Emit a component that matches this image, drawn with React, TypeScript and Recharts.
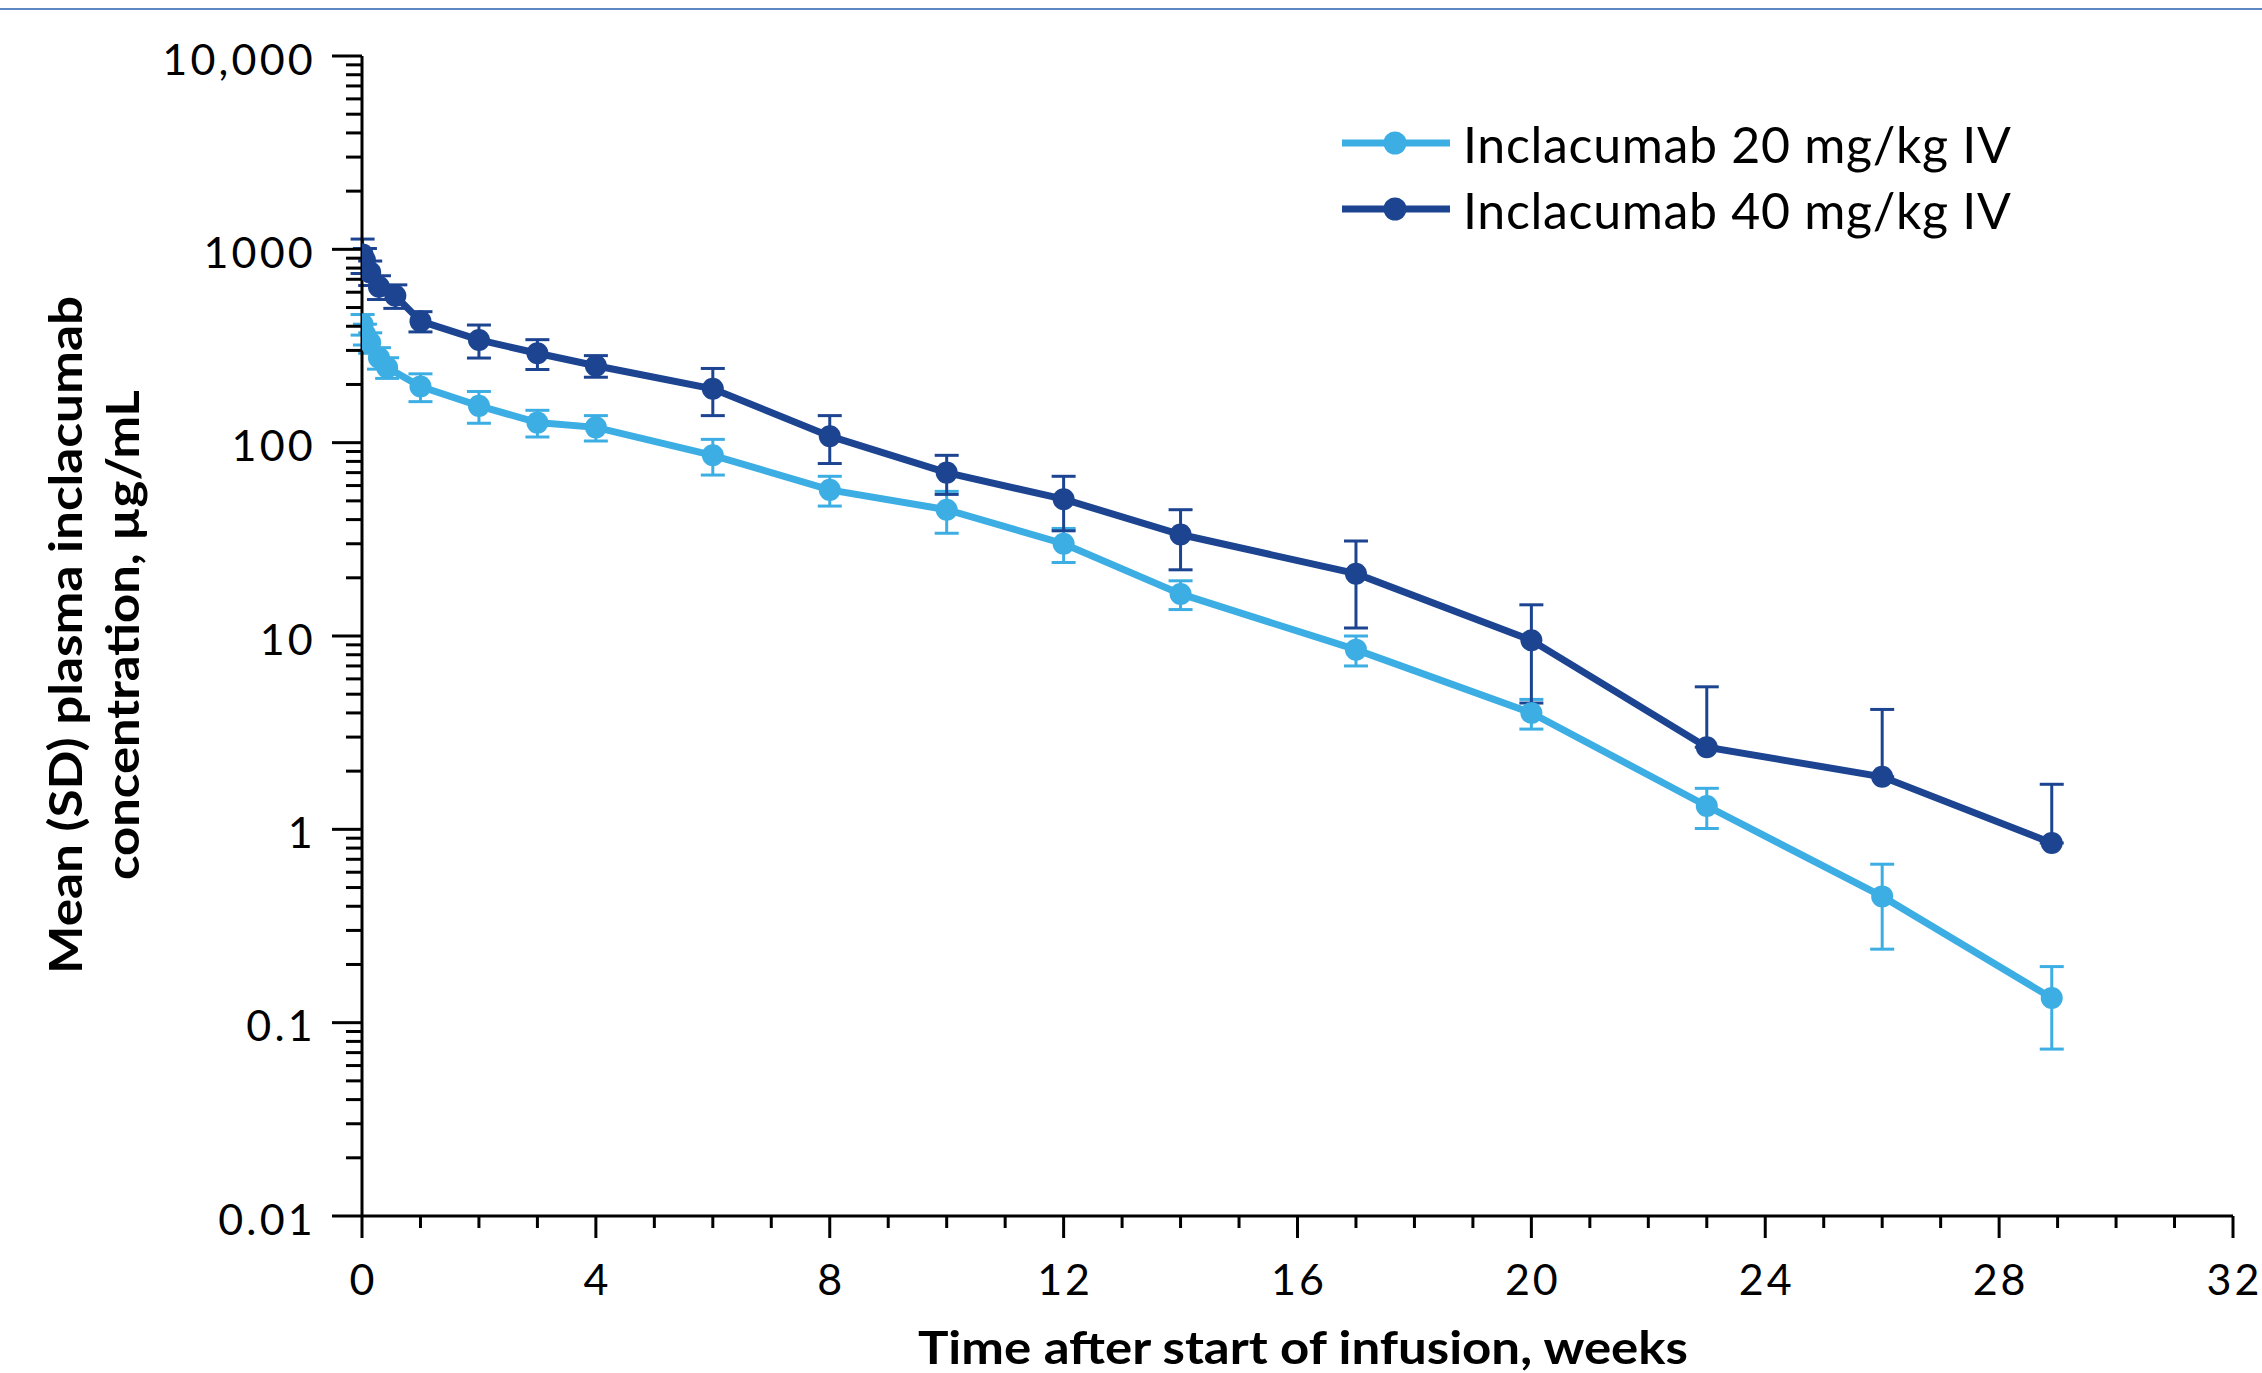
import React from 'react';
import { LineChart, Line, XAxis, YAxis, ErrorBar, Legend } from 'recharts';

// ---- data (weeks after start of infusion, mean and SD in µg/mL) ----
const weeks20 = [0.01, 0.05, 0.14, 0.29, 0.43, 1, 2, 3, 4, 6, 8, 10, 12, 14, 17, 20, 23, 26, 28.9];
const mean20 = [410, 365, 330, 275, 245, 195, 155, 127, 120, 86, 57, 45, 30, 16.5, 8.5, 4.0, 1.32, 0.45, 0.134];
const sd20 = [50, 45, 40, 35, 30, 32, 29, 20, 18, 18, 10, 11, 6, 2.8, 1.5, 0.7, 0.31, 0.21, 0.061];

const weeks40 = [0.01, 0.05, 0.14, 0.29, 0.57, 1, 2, 3, 4, 6, 8, 10, 12, 14, 17, 20, 23, 26, 28.9];
const mean40 = [940, 880, 760, 640, 575, 425, 340, 290, 250, 190, 108, 70, 51, 33.5, 21, 9.5, 2.66, 1.87, 0.85];
const sd40 = [190, 130, 110, 90, 80, 51, 66, 51, 32, 52, 30, 16, 16, 11.5, 10, 5, 2.8, 2.3, 0.86];

const seriesNames = ['Inclacumab 20 mg/kg IV', 'Inclacumab 40 mg/kg IV'];
const seriesColors = ['#3CAEE3', '#1C4491'];

const xMajorTicks = [0, 4, 8, 12, 16, 20, 24, 28, 32];
const xAllTicks = Array.from({ length: 33 }, (_, i) => i);

const yMajorTicks = [0.01, 0.1, 1, 10, 100, 1000, 10000];
const yTickLabels = ['0.01', '0.1', '1', '10', '100', '1000', '10,000'];
const yMinorMultipliers = [2, 3, 4, 5, 6, 7, 8, 9];

const yMinorTicks: number[] = [];
yMajorTicks.slice(0, -1).forEach((d) => {
  yMinorMultipliers.forEach((m) => yMinorTicks.push(+(d * m).toPrecision(6)));
});
const yAllTicks = [...yMajorTicks, ...yMinorTicks].sort((a, b) => a - b);

const build = (w: number[], m: number[], s: number[]) =>
  w.map((week, i) => ({
    week,
    conc: m[i],
    err: [s[i] >= m[i] ? 0 : s[i], s[i]],
  }));

const data20 = build(weeks20, mean20, sd20);
const data40 = build(weeks40, mean40, sd40);

const FONT = 'Lato, "Open Sans", sans-serif';

const XTick = (props: any) => {
  const { x, y, payload } = props;
  const v = payload.value;
  const major = xMajorTicks.includes(v);
  return (
    <g>
      <line x1={x} x2={x} y1={y} y2={y + (major ? 22 : 12)} stroke="#000" strokeWidth={3} />
      {major && (
        <text
          x={x + 1.5}
          y={y + 62}
          textAnchor="middle"
          dominantBaseline="central"
          fontFamily={FONT}
          fontSize={43}
          letterSpacing={3}
          fill="#000"
        >
          {v}
        </text>
      )}
    </g>
  );
};

const YTick = (props: any) => {
  const { x, y, payload } = props;
  const v = payload.value;
  const idx = yMajorTicks.findIndex((t) => Math.abs(t - v) / t < 1e-6);
  const major = idx >= 0;
  return (
    <g>
      <line x1={x - (major ? 30 : 16)} x2={x} y1={y} y2={y} stroke="#000" strokeWidth={3} />
      {major && (
        <text
          x={x - 46}
          y={y + 2}
          textAnchor="end"
          dominantBaseline="central"
          fontFamily={FONT}
          fontSize={43}
          letterSpacing={3.2}
          fill="#000"
        >
          {yTickLabels[idx]}
        </text>
      )}
    </g>
  );
};

const XTitle = () => (
  <text
    x={1303}
    y={1346}
    textAnchor="middle"
    dominantBaseline="central"
    fontFamily={FONT}
    fontWeight={700}
    fontSize={46}
    textLength={770}
    lengthAdjust="spacingAndGlyphs"
    fill="#000"
  >
    Time after start of infusion, weeks
  </text>
);

const YTitle = () => (
  <g transform="translate(0,635) rotate(-90)">
    <text
      x={0}
      y={64}
      textAnchor="middle"
      dominantBaseline="central"
      fontFamily={FONT}
      fontWeight={700}
      fontSize={46}
      textLength={678}
      lengthAdjust="spacingAndGlyphs"
      fill="#000"
    >
      Mean (SD) plasma inclacumab
    </text>
    <text
      x={0}
      y={121}
      textAnchor="middle"
      dominantBaseline="central"
      fontFamily={FONT}
      fontWeight={700}
      fontSize={46}
      textLength={490}
      lengthAdjust="spacingAndGlyphs"
      fill="#000"
    >
      concentration, µg/mL
    </text>
  </g>
);

const LegendContent = (props: any) => {
  const payload = props.payload || [];
  return (
    <svg width={720} height={150}>
      {payload.map((p: any, i: number) => {
        const cy = 33 + i * 66;
        return (
          <g key={i}>
            <line x1={12} x2={120} y1={cy} y2={cy} stroke={p.color} strokeWidth={7} />
            <circle cx={65} cy={cy} r={11.5} fill={p.color} />
            <text
              x={133}
              y={cy + 1}
              dominantBaseline="central"
              fontFamily={FONT}
              fontSize={50}
              letterSpacing={0.7}
              fill="#000"
            >
              {p.value}
            </text>
          </g>
        );
      })}
    </svg>
  );
};

export default function App() {
  return (
    <div style={{ position: 'absolute', left: 0, top: 0, width: 2262, height: 1373, background: '#fff' }}>
      <div style={{ position: 'absolute', left: 0, top: 8, width: 2262, height: 2, background: '#5D87C4' }} />
      <LineChart width={2262} height={1373} margin={{ top: 56, right: 29, bottom: 0, left: 0 }}>
        <XAxis
          dataKey="week"
          type="number"
          domain={[0, 32]}
          ticks={xAllTicks}
          interval={0}
          height={157}
          tickLine={false}
          tickSize={0}
          tickMargin={0}
          axisLine={{ stroke: '#000', strokeWidth: 3 }}
          tick={<XTick />}
          allowDataOverflow
          label={<XTitle />}
        />
        <YAxis
          type="number"
          scale="log"
          domain={[0.01, 10000]}
          ticks={yAllTicks}
          interval={0}
          width={362}
          tickLine={false}
          tickSize={0}
          tickMargin={0}
          axisLine={{ stroke: '#000', strokeWidth: 3 }}
          tick={<YTick />}
          allowDataOverflow
          label={<YTitle />}
        />
        <Legend
          layout="vertical"
          align="center"
          verticalAlign="middle"
          content={<LegendContent />}
          wrapperStyle={{ left: 1330, top: 110, width: 720, height: 150 }}
        />
        <Line
          data={data20}
          dataKey="conc"
          name={seriesNames[0]}
          stroke={seriesColors[0]}
          strokeWidth={7}
          dot={{ r: 11, fill: seriesColors[0], stroke: seriesColors[0], strokeWidth: 0 }}
          activeDot={false}
          isAnimationActive={false}
        >
          <ErrorBar dataKey="err" width={12} strokeWidth={3} stroke={seriesColors[0]} direction="y" isAnimationActive={false} />
        </Line>
        <Line
          data={data40}
          dataKey="conc"
          name={seriesNames[1]}
          stroke={seriesColors[1]}
          strokeWidth={7}
          dot={{ r: 11, fill: seriesColors[1], stroke: seriesColors[1], strokeWidth: 0 }}
          activeDot={false}
          isAnimationActive={false}
        >
          <ErrorBar dataKey="err" width={12} strokeWidth={3} stroke={seriesColors[1]} direction="y" isAnimationActive={false} />
        </Line>
      </LineChart>
    </div>
  );
}
